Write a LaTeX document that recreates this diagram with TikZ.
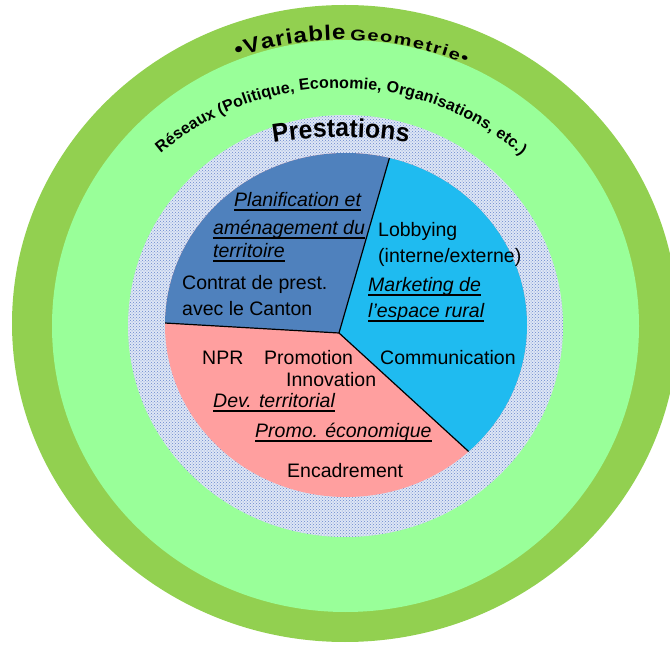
\documentclass[tikz,border=0pt]{standalone}
\usepackage{fontspec}
\setmainfont{Liberation Sans}
\usetikzlibrary{decorations.text,patterns}
\definecolor{outerg}{RGB}{146,208,80}
\definecolor{lightg}{RGB}{153,255,153}
\definecolor{dotbg}{RGB}{222,230,245}
\definecolor{dotc}{RGB}{105,135,205}
\definecolor{sdark}{RGB}{79,129,189}
\definecolor{slight}{RGB}{31,187,240}
\definecolor{spink}{RGB}{255,159,159}
\tikzset{
  lbl/.style={anchor=base west, inner sep=0pt, font=\fontsize{19.5}{22}\selectfont},
  ullbl/.style={anchor=base west, inner sep=0pt, font=\fontsize{19.5}{22}\selectfont\itshape},
  ulline/.style={draw=black, line width=1.8pt},
  sepline/.style={draw=black, line width=1.2pt},
  arctext/.style={decorate, decoration={text along path, text align=fit to path, #1}}
}
\newcommand{\ulnode}[1]{\draw[ulline] ([yshift=-3pt]#1.base west) -- ([yshift=-3pt]#1.base east);}
\begin{document}
\begin{tikzpicture}[x=1pt,y=1pt]
\useasboundingbox (0,0) rectangle (670,646);
\clip (0,0) rectangle (670,646);
% rings
\fill[outerg] (345,322.5) ellipse [x radius=333, y radius=318.5];
\fill[lightg] (345.5,320) ellipse [x radius=293.5, y radius=286];
\fill[dotbg] (345.5,320) ellipse [x radius=217.5, y radius=211];
\fill[pattern=crosshatch dots, pattern color=dotc] (345.5,320) ellipse [x radius=217.5, y radius=211];
% pie
\coordinate (V) at (339,313);
\coordinate (L) at (100,326.7);
\coordinate (T) at (421.7,600);
\coordinate (R) at (600,74.4);
\begin{scope}
  \clip (346,321) ellipse [x radius=181, y radius=172];
  \fill[spink] (100,100) rectangle (600,600);
  \fill[sdark] (V) -- (L) -- (100,600) -- (T) -- cycle;
  \fill[slight] (V) -- (T) -- (600,600) -- (R) -- cycle;
  \draw[sepline] (V) -- (L);
  \draw[sepline] (V) -- (T);
  \draw[sepline] (V) -- (R);
\end{scope}
% curved titles
\path[arctext={text={|\fontsize{21}{24}\selectfont\bfseries\addfontfeatures{FakeStretch=1.15}|•Variable}}]
  (237,588.7) arc[start angle=108.7, end angle=89.5, radius=330];
\path[arctext={text={|\fontsize{15.5}{18}\selectfont\bfseries\addfontfeatures{FakeStretch=1.3}|Geometrie•}}]
  (350,605.9) arc[start angle=88.8, end angle=68.1, radius=330];
\path[arctext={text={|\fontsize{16}{18}\selectfont\bfseries|Réseaux (Politique, Economie, Organisations, etc.)}}]
  (160.7,492.5) arc[start angle=130.1, end angle=49.3, radius=278];
\path[arctext={text={|\fontsize{26}{28}\selectfont\bfseries\addfontfeatures{FakeStretch=0.95}|Prestations}}]
  (273.4,503.5) arc[start angle=99.3, end angle=80.8, radius=420];
% slice texts
\node[ullbl] (plan1) at (234,439) {Planification et};
\node[ullbl] (plan2) at (213,411) {aménagement du};
\node[ullbl] (plan3) at (213,388) {territoire};
\node[lbl] (contrat1) at (182,356) {Contrat de prest.};
\node[lbl] (contrat2) at (182,330) {avec le Canton};
\node[lbl] (lobby1) at (378,409) {Lobbying};
\node[lbl] (lobby2) at (378,383) {(interne/externe)};
\node[ullbl] (mark1) at (368,354) {Marketing de};
\node[ullbl] (mark2) at (368,328) {l’espace rural};
\node[lbl] (npr) at (202,281) {NPR};
\node[lbl] (promo) at (264,281) {Promotion};
\node[lbl] (innov) at (286,259) {Innovation};
\node[lbl] (comm) at (380,281) {Communication};
\node[ullbl] (dev) at (213,238) {Dev. territorial};
\node[ullbl] (promoeco) at (255,208) {Promo. économique};
\node[lbl] (encad) at (287,168) {Encadrement};
\ulnode{plan1}\ulnode{plan2}\ulnode{plan3}
\ulnode{mark1}\ulnode{mark2}
\ulnode{dev}\ulnode{promoeco}
\end{tikzpicture}
\end{document}
